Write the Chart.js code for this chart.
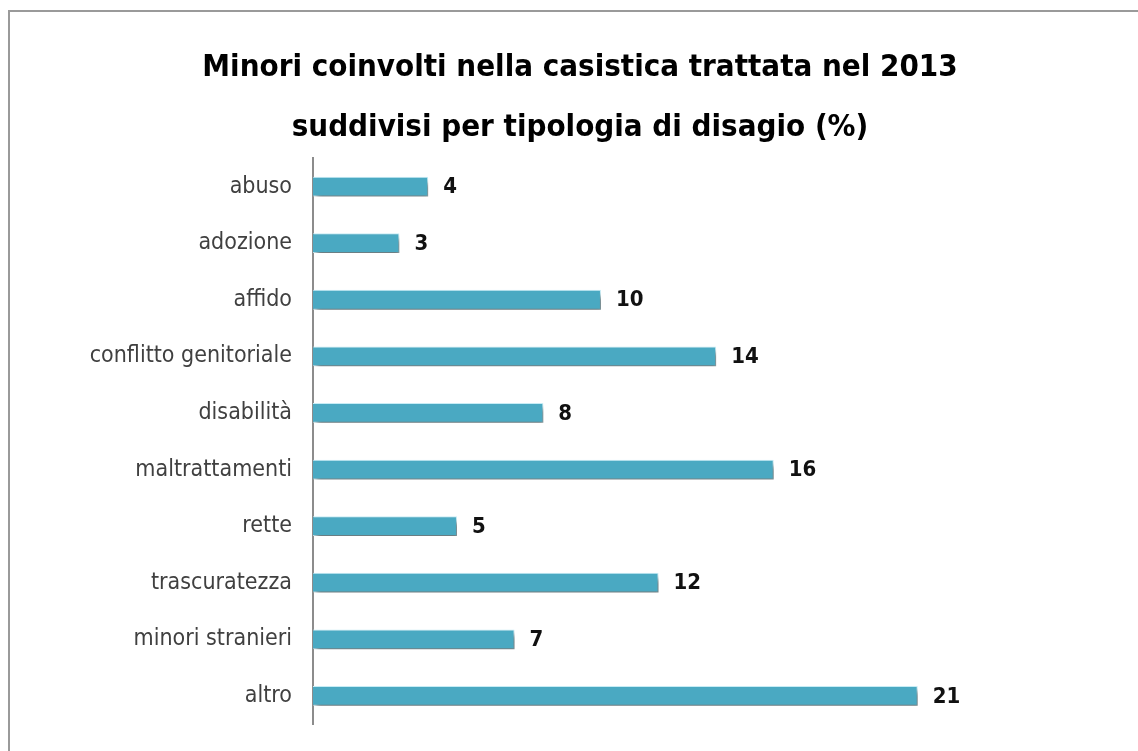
<!DOCTYPE html>
<html lang="it">
<head>
<meta charset="utf-8">
<title>Minori coinvolti 2013</title>
<script src="https://cdn.jsdelivr.net/npm/chart.js@4.4.1/dist/chart.umd.min.js"></script>
<style>
  html, body { margin: 0; padding: 0; background: #fff; }
  #wrap { position: relative; width: 1138px; height: 751px; overflow: hidden; }
  #frame {
    position: absolute; left: 8px; top: 10px; width: 1200px; height: 800px;
    border-top: 2px solid #9a9a9a; border-left: 2px solid #9a9a9a;
    pointer-events: none;
  }
  canvas { position: absolute; left: 0; top: 0; }
</style>
</head>
<body>
<div id="wrap">
  <canvas id="chart" width="1138" height="751"></canvas>
  <div id="frame"></div>
</div>
<script>
// categorie e percentuali
const categories = [
  "abuso",
  "adozione",
  "affido",
  "conflitto genitoriale",
  "disabilità",
  "maltrattamenti",
  "rette",
  "trascuratezza",
  "minori stranieri",
  "altro",
];
const percentages = [4, 3, 10, 14, 8, 16, 5, 12, 7, 21];
const titleLines = [
  "Minori coinvolti nella casistica trattata nel 2013",
  "suddivisi per tipologia di disagio (%)",
];

const FONT = "'DejaVu Sans Condensed', 'DejaVu Sans', sans-serif";

// soft drop shadow under the bars
const barShadow = {
  id: "barShadow",
  beforeDatasetsDraw(chart) {
    const ctx = chart.ctx;
    ctx.save();
    ctx.shadowColor = "rgba(0, 0, 0, 0.5)";
    ctx.shadowBlur = 5;
    ctx.shadowOffsetX = 3;
    ctx.shadowOffsetY = 5;
  },
  afterDatasetsDraw(chart) {
    chart.ctx.restore();
  },
};

// value labels at the end of each bar
const valueLabels = {
  id: "valueLabels",
  afterDraw(chart) {
    const ctx = chart.ctx;
    const meta = chart.getDatasetMeta(0);
    ctx.save();
    ctx.font = "bold 22px " + FONT;
    ctx.fillStyle = "#111";
    ctx.textAlign = "left";
    ctx.textBaseline = "middle";
    meta.data.forEach((bar, i) => {
      ctx.fillText(String(percentages[i]), bar.x + 15, bar.y + 1);
    });
    ctx.restore();
  },
};

new Chart(document.getElementById("chart"), {
  type: "bar",
  data: {
    labels: categories,
    datasets: [
      {
        data: percentages,
        backgroundColor: "#4aa9c2",
        borderColor: "#c9eef7",
        borderWidth: 1,
        barPercentage: 0.35,
        categoryPercentage: 1,
      },
    ],
  },
  options: {
    indexAxis: "y",
    responsive: false,
    animation: false,
    layout: {
      padding: { top: 0, right: 0, bottom: 14, left: 22 },
    },
    plugins: {
      legend: { display: false },
      tooltip: { enabled: false },
      title: {
        display: true,
        text: titleLines,
        color: "#000",
        font: { family: FONT, size: 31, weight: "bold", lineHeight: 1.94 },
        padding: { top: 38, bottom: 0 },
      },
    },
    scales: {
      x: {
        display: false,
        min: 0,
        max: 28.65,
      },
      y: {
        grid: { display: false },
        border: { display: true, color: "#8c8c8c", width: 2 },
        ticks: {
          color: "#404040",
          font: { family: FONT, size: 23 },
          padding: 13,
        },
        afterFit(scale) {
          scale.width = 291;
        },
      },
    },
  },
  plugins: [barShadow, valueLabels],
});
</script>
</body>
</html>
